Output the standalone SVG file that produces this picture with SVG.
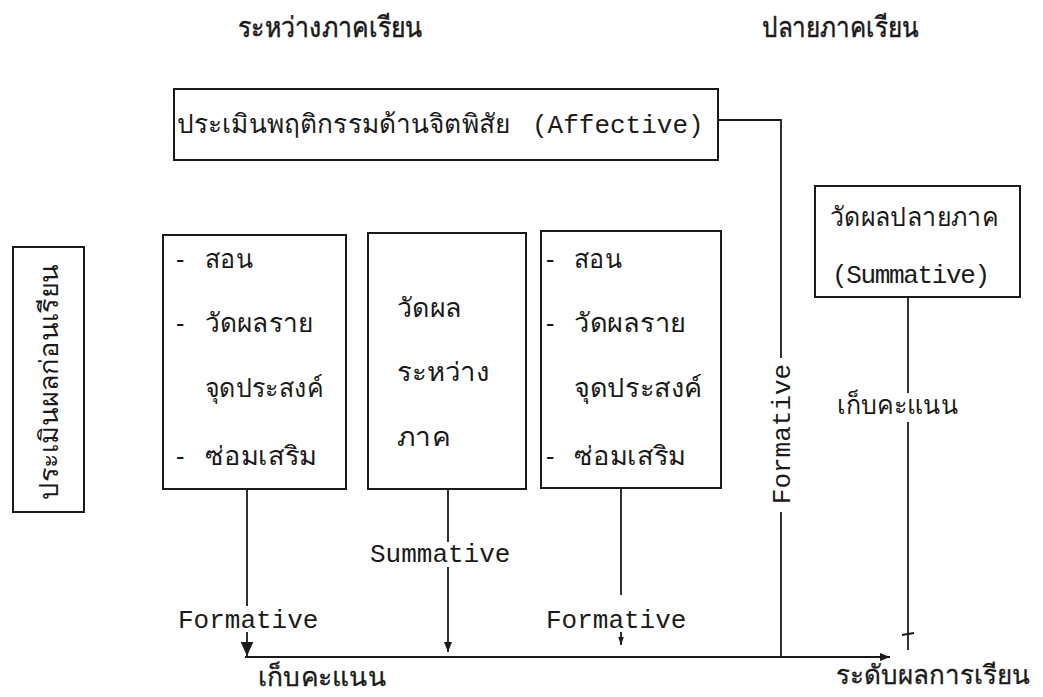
<svg xmlns="http://www.w3.org/2000/svg" width="1043" height="697" viewBox="0 0 1043 697">
<defs>
<style>
.bx{fill:none;stroke:#1a1a1a;stroke-width:2}
.ln{fill:none;stroke:#1a1a1a;stroke-width:1.8}
.th{font-family:"Noto Sans",sans-serif;font-size:26px;fill:#1a1a1a}
.hd{font-family:"Noto Sans",sans-serif;font-size:28px;fill:#1a1a1a;stroke:#1a1a1a;stroke-width:0.5}
.bt{font-family:"Noto Sans",sans-serif;font-size:26px;fill:#1a1a1a;stroke:#1a1a1a;stroke-width:0.3}
.mo{font-family:"Liberation Mono",monospace;font-size:26px;fill:#1a1a1a}
</style>
<marker id="ah" viewBox="0 0 10 10" refX="10" refY="5" markerWidth="10" markerHeight="10" markerUnits="userSpaceOnUse" orient="auto"><path d="M0,1 L10,5 L0,9 Z" fill="#1a1a1a"/></marker>
<marker id="ahs" viewBox="0 0 10 10" refX="10" refY="5" markerWidth="8" markerHeight="8" markerUnits="userSpaceOnUse" orient="auto"><path d="M0,1.5 L10,5 L0,8.5 Z" fill="#1a1a1a"/></marker>
<marker id="ahb" viewBox="0 0 10 10" refX="10" refY="5" markerWidth="16" markerHeight="14" markerUnits="userSpaceOnUse" orient="auto"><path d="M0,0.5 L10,5 L0,9.5 Z" fill="#1a1a1a"/></marker>
</defs>
<rect width="1043" height="697" fill="#ffffff"/>

<g id="headers">
<text class="hd" x="238" y="37" textLength="184" lengthAdjust="spacingAndGlyphs">ระหว่างภาคเรียน</text>
<text class="hd" x="762" y="37" textLength="156" lengthAdjust="spacingAndGlyphs">ปลายภาคเรียน</text>
</g>

<g id="node-affective">
<rect class="bx" x="174" y="89" width="544" height="71"/>
<text class="th" x="177" y="133" textLength="333" lengthAdjust="spacingAndGlyphs">ประเมินพฤติกรรมด้านจิตพิสัย</text>
<text class="mo" x="532" y="133" font-size="25">(Affective)</text>
</g>

<g id="node-pretest">
<rect class="bx" x="13" y="247" width="71" height="265"/>
<text class="th" transform="translate(58,382) rotate(-90)" text-anchor="middle" font-size="27" textLength="236" lengthAdjust="spacingAndGlyphs">ประเมินผลก่อนเรียน</text>
</g>

<g id="node-box1">
<rect class="bx" x="163" y="235" width="183" height="254"/>
<text class="th" x="176" y="268">-</text>
<text class="th" x="205" y="268" textLength="48" lengthAdjust="spacingAndGlyphs">สอน</text>
<text class="th" x="176" y="332">-</text>
<text class="th" x="205" y="332" textLength="108" lengthAdjust="spacingAndGlyphs">วัดผลราย</text>
<text class="th" x="205" y="397" textLength="118" lengthAdjust="spacingAndGlyphs">จุดประสงค์</text>
<text class="th" x="176" y="465">-</text>
<text class="th" x="205" y="465" textLength="112" lengthAdjust="spacingAndGlyphs">ซ่อมเสริม</text>
</g>

<g id="node-box2">
<rect class="bx" x="368" y="233" width="158" height="256"/>
<text class="th" x="397" y="317" textLength="65" lengthAdjust="spacingAndGlyphs">วัดผล</text>
<text class="th" x="397" y="381" textLength="93" lengthAdjust="spacingAndGlyphs">ระหว่าง</text>
<text class="th" x="397" y="446" textLength="53" lengthAdjust="spacingAndGlyphs">ภาค</text>
</g>

<g id="node-box3">
<rect class="bx" x="541" y="231" width="180" height="257"/>
<text class="th" x="546" y="268">-</text>
<text class="th" x="574" y="268" textLength="48" lengthAdjust="spacingAndGlyphs">สอน</text>
<text class="th" x="546" y="332">-</text>
<text class="th" x="574" y="332" textLength="112" lengthAdjust="spacingAndGlyphs">วัดผลราย</text>
<text class="th" x="574" y="397" textLength="128" lengthAdjust="spacingAndGlyphs">จุดประสงค์</text>
<text class="th" x="546" y="465">-</text>
<text class="th" x="574" y="465" textLength="112" lengthAdjust="spacingAndGlyphs">ซ่อมเสริม</text>
</g>

<g id="node-final">
<rect class="bx" x="815" y="186" width="205" height="111"/>
<text class="th" x="830" y="226" textLength="168" lengthAdjust="spacingAndGlyphs">วัดผลปลายภาค</text>
<text class="mo" x="832" y="283" textLength="158" lengthAdjust="spacing">(Summative)</text>
</g>

<g id="connectors">
<polyline class="ln" points="718,120 781,120 781,358"/>
<polyline class="ln" points="781,512 781,657 890,657" marker-end="url(#ah)"/>
<line class="ln" x1="245" y1="657" x2="781" y2="657"/>
<line class="ln" x1="247" y1="489" x2="247" y2="606"/>
<line class="ln" x1="247" y1="632" x2="247" y2="656" marker-end="url(#ahb)"/>
<line class="ln" x1="448" y1="489" x2="448" y2="542"/>
<line class="ln" x1="448" y1="567" x2="448" y2="652" marker-end="url(#ah)"/>
<line class="ln" x1="621" y1="488" x2="621" y2="595"/>
<line class="ln" x1="621" y1="632" x2="621" y2="645" marker-end="url(#ahs)"/>
<line class="ln" x1="908" y1="297" x2="908" y2="393"/>
<line class="ln" x1="908" y1="422" x2="908" y2="650"/>
<line class="ln" x1="902" y1="635" x2="914" y2="633"/>
</g>

<g id="labels">
<text class="mo" transform="translate(790,434) rotate(-90)" text-anchor="middle">Formative</text>
<text class="mo" x="178" y="628">Formative</text>
<text class="mo" x="546" y="628">Formative</text>
<text class="mo" x="370" y="562">Summative</text>
<text class="th" x="837" y="414" textLength="121" lengthAdjust="spacingAndGlyphs">เก็บคะแนน</text>
<text class="bt" x="258" y="686" textLength="128" lengthAdjust="spacingAndGlyphs">เก็บคะแนน</text>
<text class="bt" x="1030" y="684" font-size="23" text-anchor="end">ระดับผลการเรียน</text>
</g>
</svg>
